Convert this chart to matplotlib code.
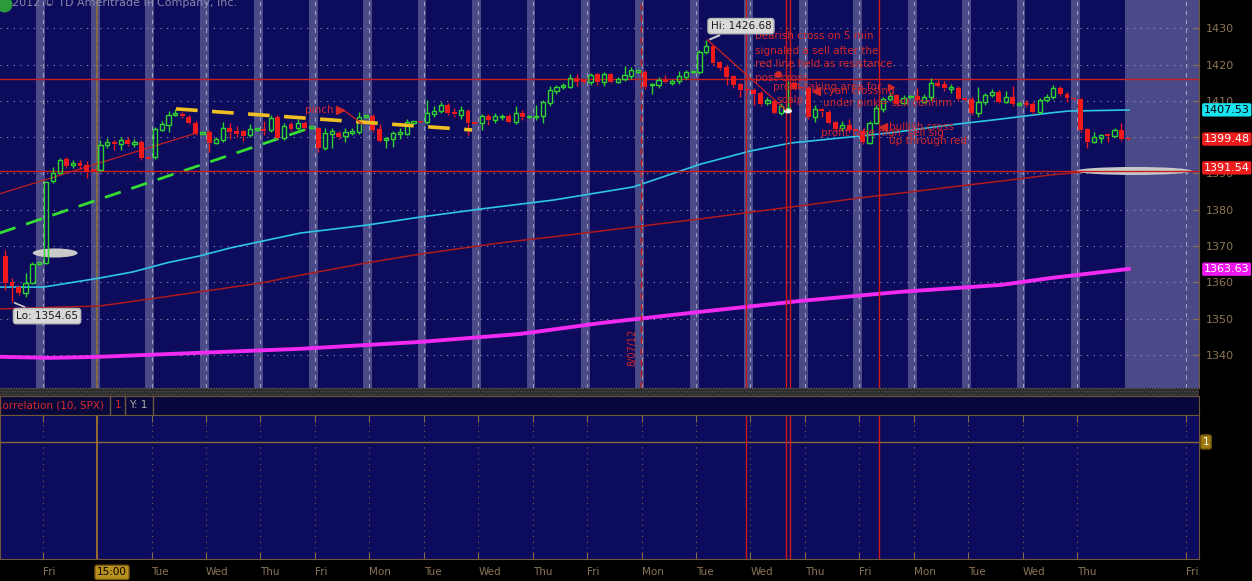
import numpy as np
import matplotlib.pyplot as plt
from matplotlib.patches import Ellipse, Rectangle

# Hourly SPX-style candles, index 0 = first bar after the left-most day boundary
bar_index = np.arange(-6, 160)
bar_open = [
    1367.4, 1360.2, 1358.8, 1357.0, 1359.9, 1365.1,
    1365.4, 1388.0, 1390.2, 1393.9, 1392.4, 1393.0, 1392.3, 1391.1,
    1391.0, 1397.9, 1398.7, 1398.0, 1399.2, 1398.0, 1398.8, 1394.3,
    1394.6, 1402.0, 1403.4, 1406.2, 1406.4, 1405.7, 1404.0, 1401.0,
    1401.4, 1398.5, 1399.2, 1402.5, 1401.8, 1401.6, 1400.6, 1402.0,
    1402.3, 1402.0, 1405.6, 1399.8, 1403.6, 1402.5, 1403.9, 1402.5,
    1402.5, 1397.0, 1400.9, 1401.2, 1400.3, 1401.2, 1401.4, 1405.6,
    1405.8, 1402.2, 1399.2, 1399.5, 1400.8, 1401.0, 1403.9, 1404.3,
    1404.2, 1406.5, 1407.3, 1408.9, 1407.0, 1406.1, 1407.2, 1404.0,
    1403.9, 1405.8, 1404.8, 1405.5, 1405.8, 1404.2, 1406.7, 1405.5,
    1405.5, 1405.8, 1409.4, 1412.8, 1413.9, 1413.9, 1416.3, 1415.3,
    1415.3, 1417.4, 1415.3, 1417.4, 1415.1, 1416.0, 1416.8, 1418.0,
    1418.0, 1414.3, 1414.5, 1415.6, 1415.0, 1415.4, 1416.5, 1417.9,
    1418.0, 1423.5, 1425.0, 1420.7, 1419.3, 1416.9, 1414.6, 1413.1,
    1413.0, 1412.2, 1409.4, 1410.0, 1406.7, 1407.5, 1415.0, 1413.6,
    1413.5, 1405.6, 1407.5, 1407.0, 1404.2, 1402.5, 1403.4, 1402.0,
    1401.8, 1398.3, 1404.0, 1407.8, 1410.4, 1411.5, 1409.4, 1411.0,
    1411.3, 1409.8, 1411.0, 1415.0, 1414.6, 1413.4, 1413.5, 1410.6,
    1410.5, 1406.8, 1409.7, 1411.6, 1412.5, 1409.8, 1411.2, 1409.0,
    1409.2, 1409.2, 1406.9, 1410.2, 1411.0, 1413.6, 1411.8, 1410.7,
    1410.5, 1402.3, 1398.7, 1399.8, 1400.6, 1400.3, 1401.9, 1399.6,
]
bar_high = [
    1368.9, 1361.2, 1359.3, 1362.6, 1365.7, 1365.3,
    1388.0, 1391.9, 1394.2, 1394.6, 1393.6, 1393.8, 1393.4, 1391.2,
    1399.2, 1399.8, 1399.3, 1400.0, 1400.0, 1399.6, 1399.3, 1394.4,
    1402.9, 1404.5, 1407.3, 1407.8, 1406.9, 1406.1, 1404.4, 1401.4,
    1402.0, 1400.0, 1404.3, 1404.0, 1403.0, 1402.0, 1403.5, 1402.4,
    1404.5, 1406.0, 1406.0, 1404.0, 1404.3, 1405.0, 1404.5, 1402.8,
    1402.8, 1402.5, 1402.6, 1401.8, 1402.5, 1402.5, 1407.0, 1406.0,
    1406.3, 1403.5, 1400.0, 1401.8, 1402.5, 1405.0, 1404.3, 1404.5,
    1410.2, 1408.5, 1409.7, 1409.5, 1408.0, 1408.5, 1407.8, 1404.2,
    1406.5, 1406.5, 1406.6, 1406.5, 1406.3, 1408.5, 1407.5, 1405.8,
    1408.8, 1410.2, 1414.0, 1414.5, 1415.0, 1417.4, 1417.4, 1415.5,
    1417.6, 1417.8, 1418.0, 1417.8, 1416.6, 1419.5, 1419.3, 1418.3,
    1418.5, 1415.0, 1416.5, 1417.2, 1416.0, 1418.3, 1418.5, 1418.2,
    1424.0, 1426.68, 1425.5, 1421.0, 1419.8, 1417.2, 1415.0, 1413.3,
    1413.5, 1412.6, 1411.0, 1410.5, 1409.5, 1415.5, 1415.5, 1413.8,
    1414.0, 1409.0, 1408.0, 1407.5, 1404.5, 1404.5, 1405.0, 1402.3,
    1402.2, 1404.5, 1409.0, 1411.0, 1412.5, 1412.0, 1411.5, 1411.6,
    1413.5, 1412.0, 1416.3, 1415.8, 1415.5, 1414.6, 1414.0, 1410.8,
    1411.0, 1413.8, 1412.3, 1413.2, 1413.0, 1412.8, 1414.0, 1409.4,
    1410.2, 1409.6, 1410.8, 1411.8, 1414.5, 1414.0, 1412.5, 1410.9,
    1410.8, 1402.6, 1401.5, 1401.0, 1400.9, 1402.5, 1404.0, 1399.7,
]
bar_low = [
    1357.9, 1354.65, 1356.6, 1356.0, 1359.5, 1364.9,
    1365.0, 1387.5, 1389.8, 1391.6, 1391.4, 1391.2, 1388.8, 1390.7,
    1390.6, 1397.0, 1396.5, 1396.6, 1397.6, 1397.3, 1393.8, 1393.9,
    1394.1, 1401.6, 1401.5, 1405.8, 1405.4, 1403.6, 1400.6, 1400.8,
    1396.0, 1398.0, 1398.8, 1399.5, 1400.0, 1399.0, 1400.0, 1401.8,
    1400.5, 1401.5, 1399.5, 1399.3, 1401.8, 1402.0, 1402.0, 1402.3,
    1395.9, 1396.5, 1397.0, 1399.5, 1398.8, 1400.5, 1401.0, 1405.4,
    1401.5, 1398.7, 1397.0, 1397.3, 1399.5, 1400.5, 1403.7, 1403.9,
    1403.5, 1405.5, 1406.8, 1406.0, 1405.5, 1405.0, 1400.6, 1403.5,
    1402.0, 1403.3, 1404.0, 1404.7, 1403.8, 1403.6, 1404.8, 1405.3,
    1404.8, 1403.8, 1408.5, 1411.8, 1413.3, 1413.6, 1414.0, 1415.0,
    1414.5, 1414.4, 1414.0, 1414.8, 1414.8, 1415.5, 1416.0, 1417.8,
    1413.3, 1412.0, 1413.5, 1414.8, 1414.5, 1414.6, 1416.0, 1417.7,
    1417.5, 1423.0, 1420.0, 1418.5, 1414.5, 1413.5, 1411.0, 1412.7,
    1409.0, 1408.6, 1409.0, 1406.3, 1406.0, 1407.0, 1413.0, 1413.3,
    1405.0, 1404.2, 1405.5, 1403.5, 1401.5, 1401.8, 1401.5, 1401.6,
    1398.0, 1398.0, 1403.5, 1407.0, 1410.0, 1408.5, 1409.0, 1410.8,
    1409.8, 1409.5, 1410.0, 1413.8, 1412.8, 1412.3, 1410.0, 1410.1,
    1406.0, 1405.5, 1409.0, 1411.0, 1409.3, 1409.3, 1408.7, 1408.8,
    1408.3, 1406.4, 1406.5, 1409.6, 1410.5, 1411.3, 1409.8, 1410.2,
    1401.5, 1397.0, 1398.3, 1398.5, 1398.8, 1400.0, 1399.0, 1399.3,
]
bar_close = [
    1359.8, 1358.9, 1357.0, 1359.9, 1365.1, 1365.3,
    1387.7, 1390.2, 1393.7, 1392.1, 1392.8, 1392.2, 1390.5, 1390.8,
    1397.9, 1398.7, 1398.2, 1399.2, 1398.0, 1398.7, 1394.2, 1394.1,
    1402.2, 1403.6, 1406.1, 1406.5, 1405.8, 1403.8, 1400.9, 1401.2,
    1398.3, 1399.5, 1402.5, 1401.5, 1401.0, 1400.4, 1402.2, 1402.2,
    1401.8, 1405.3, 1399.8, 1403.1, 1402.3, 1403.9, 1402.5, 1402.6,
    1397.0, 1401.2, 1401.6, 1400.1, 1401.4, 1401.8, 1405.6, 1405.8,
    1402.0, 1399.0, 1399.6, 1401.2, 1401.5, 1404.2, 1404.1, 1404.1,
    1406.7, 1407.3, 1408.9, 1406.7, 1406.5, 1407.5, 1403.9, 1403.7,
    1405.8, 1404.8, 1405.8, 1405.8, 1404.2, 1406.7, 1405.5, 1405.7,
    1405.8, 1409.7, 1413.0, 1413.8, 1414.2, 1416.3, 1415.3, 1415.2,
    1417.0, 1415.2, 1417.4, 1415.2, 1416.0, 1417.2, 1418.6, 1418.2,
    1413.8, 1414.6, 1415.8, 1415.3, 1415.4, 1416.8, 1418.0, 1418.1,
    1423.5, 1425.0, 1420.4, 1419.1, 1416.5, 1414.4, 1413.0, 1412.9,
    1412.0, 1409.2, 1410.2, 1406.7, 1408.6, 1408.0, 1413.3, 1413.5,
    1405.6, 1407.8, 1407.2, 1403.9, 1402.3, 1403.4, 1402.0, 1401.8,
    1398.6, 1404.0, 1408.0, 1410.4, 1411.3, 1409.2, 1410.8, 1411.3,
    1410.3, 1411.1, 1414.9, 1414.2, 1413.5, 1413.8, 1410.5, 1410.3,
    1406.7, 1409.7, 1411.6, 1412.4, 1409.7, 1411.0, 1409.2, 1409.2,
    1408.9, 1406.9, 1410.2, 1411.1, 1413.6, 1411.8, 1410.8, 1410.4,
    1402.0, 1398.7, 1400.0, 1400.6, 1400.4, 1402.0, 1399.5, 1399.4,
]

# moving averages (bar position, price)
cyan_x = [-6.8, -0.4, 7.9, 12.8, 17.8, 22.6, 27.1, 37.4, 47.2, 55.0, 63.8, 74.6,
          86.3, 96.2, 103.5, 109.4, 116.8, 124.1, 132.9, 140.3, 147.6, 150.2, 159.1]
cyan_y = [1358.7, 1358.7, 1361.2, 1362.9, 1365.4, 1367.3, 1369.5, 1373.6, 1375.8,
          1378.0, 1380.2, 1382.7, 1386.3, 1392.6, 1396.2, 1398.4, 1399.8, 1401.2,
          1403.4, 1405.0, 1406.7, 1407.2, 1407.5]
red_ma_x = [-6.8, 7.9, 14.4, 22.6, 31.5, 37.4, 47.2, 55.0, 66.8, 75.6, 87.4, 96.2,
            105.0, 110.9, 119.7, 125.6, 134.4, 140.3, 147.6, 153.5, 159.1]
red_ma_y = [1352.7, 1353.5, 1355.2, 1357.4, 1359.8, 1362.0, 1365.4, 1367.8, 1370.9,
            1372.8, 1375.5, 1377.5, 1379.7, 1381.1, 1383.3, 1384.6, 1386.6, 1387.9,
            1389.6, 1390.6, 1391.4]
pink_x = [-6.8, 0.6, 7.9, 22.6, 37.4, 55.0, 69.7, 81.5, 96.2, 110.9, 125.6, 140.3, 147.6, 159.1]
pink_y = [1339.5, 1339.2, 1339.5, 1340.6, 1341.7, 1343.6, 1345.8, 1348.8, 1351.9,
          1354.9, 1357.4, 1359.3, 1361.2, 1363.7]

price_ticks = [1340, 1350, 1360, 1370, 1380, 1390, 1400, 1410, 1420, 1430]
day_numbers = [0, 1, 2, 3, 4, 5, 6, 7, 8, 9, 10, 11, 12, 13, 14, 15, 16, 17, 18, 19, 21]
day_labels = ["Fri", "15:00", "Tue", "Wed", "Thu", "Fri", "Mon", "Tue", "Wed", "Thu",
              "Fri", "Mon", "Tue", "Wed", "Thu", "Fri", "Mon", "Tue", "Wed", "Thu", "Fri"]
marker_lines = [102.8, 108.7, 109.3, 122.4]
last_values = [(1407.53, "#19e3ef", "black"), (1399.48, "#ee1c1c", "white"),
               (1391.54, "#ee1c1c", "white"), (1363.63, "#ee16ee", "white")]

NAVY = "#0c0b5c"
BAND = "#4b4a88"
BROWN = "#6e5838"
AXTXT = "#8c7652"
GREEN = "#2fd42f"
RED = "#f01a1a"
NOTE = "#d42828"

fig = plt.figure(figsize=(12.52, 5.81), dpi=100)
fig.patch.set_facecolor("black")
W, H = 1252, 581

ax = fig.add_axes([0, 1 - 388 / H, 1199 / W, 388 / H])
ax.set_facecolor(NAVY)
ax.set_xlim(-6.76, 169.4)
ax.set_ylim(1330.9, 1437.8)

day_pos = 8 * np.array(day_numbers) - 0.5

# overnight bands + future area
for k in range(20):
    ax.axvspan(8 * k - 1.4, 8 * k - 0.1, color=BAND, lw=0, zorder=0.5)
ax.axvspan(158.5, 169.4, color=BAND, lw=0, zorder=0.5)
for p in day_pos:
    ax.axvline(p, color="#9c9cbc", lw=0.8, ls=(0, (4, 4)), zorder=0.6)
ax.axvline(7.5, color="#8a6a3a", lw=1.2, zorder=0.7)
for t in price_ticks:
    ax.axhline(t, color="#9a9ab4", lw=0.8, ls=(0, (1, 5)), zorder=0.6)

# moving averages
ax.plot(pink_x, pink_y, color="#f02af0", lw=2.8, zorder=2)
ax.plot(red_ma_x, red_ma_y, color="#b01a1a", lw=1.1, zorder=2)
ax.plot(cyan_x, cyan_y, color="#2cc6e6", lw=1.2, zorder=2)

# horizontal levels and vertical markers
ax.axhline(1416.0, color="#c81e1e", lw=1, zorder=2.2)
ax.axhline(1390.7, color="#c81e1e", lw=1, zorder=2.6)
for xm in marker_lines:
    ax.axvline(xm, color="#d01818", lw=1, zorder=2.2)
ax.axvline(87.35, color="#c01c1c", lw=1, ls=(0, (5, 3)), zorder=2.2)

ax.add_patch(Ellipse((1.35, 1368.1), 6.6, 2.5, fc="#cacaca", ec="none", zorder=2.5))
ax.add_patch(Ellipse((159.85, 1390.7), 17.0, 2.2, fc="#c8c8c8", ec="none", zorder=2.5))
ax.add_patch(Ellipse((109.0, 1407.2), 1.2, 1.3, fc="#eeeeee", ec="none", zorder=3.5))

# candles
o = np.array(bar_open)
c = np.array(bar_close)
hi = np.array(bar_high)
lo = np.array(bar_low)
up = c >= o
top = np.maximum(o, c)
bot = np.minimum(o, c)
height = np.maximum(top - bot, 0.45)
colors = np.where(up, GREEN, RED)
ax.vlines(bar_index, top, hi, colors=colors, lw=1, zorder=3)
ax.vlines(bar_index, lo, bot, colors=colors, lw=1, zorder=3)
ax.bar(bar_index[~up], height[~up], bottom=bot[~up], width=0.72, color=RED, lw=0, zorder=3)
ax.bar(bar_index[up], height[up], bottom=bot[up], width=0.62, facecolor="none",
       edgecolor=GREEN, lw=1, zorder=3)

# trend lines drawn by hand
ax.plot([-6.8, 22.2], [1384.4, 1401.2], color="#c02020", lw=0.9, zorder=2.3)
ax.plot([-6.8, 38.4], [1373.6, 1402.3], color="#33dd33", lw=2, ls=(0, (6, 4)), zorder=2.4)
ax.plot([19.1, 62.6], [1407.8, 1402.0], color="#f0c020", lw=2.6, ls=(0, (6, 4)), zorder=3.6)
ax.plot([97.2, 108.7], [1426.8, 1407.5], color="#d02020", lw=0.9, zorder=3.6)
ax.plot([43.7, 46.5], [1407.5, 1403.6], color="#d02020", lw=0.9, zorder=3.6)

# notes
nk = dict(color=NOTE, fontsize=7.5, va="center", ha="left", zorder=5)
ax.text(38.1, 1407.5, "pinch", **nk)
ax.plot([43.2], [1407.5], marker=">", color=NOTE, ms=6, zorder=5)
for yy, s in zip([1427.9, 1423.8, 1420.1, 1416.2],
                 ["bearish cross on 5 min", "signaled a sell after the",
                  "red line held as resistance", "post cross"]):
    ax.text(104.1, yy, s, **nk)
ax.plot([107.5], [1417.4], marker="o", color=NOTE, ms=4, zorder=5)
ax.text(106.8, 1413.8, "profit taking area for", **nk)
ax.text(107.3, 1410.2, "scalp", **nk)
ax.plot([113.1], [1412.7], marker="<", color=NOTE, ms=6, zorder=5)
ax.text(114.1, 1412.7, "cyan crossing", **nk)
ax.text(114.1, 1409.4, "under pink= sell confirm", **nk)
ax.plot([124.1], [1413.8], marker=">", color=NOTE, ms=5, zorder=5)
ax.text(113.8, 1401.2, "profit take high. sell sig", **nk)
ax.plot([122.9], [1402.8], marker="<", color=NOTE, ms=6, zorder=5)
ax.text(123.8, 1402.8, "bullish cross", **nk)
ax.text(123.8, 1399.0, "up through red", **nk)
ax.text(86.2, 1342.0, "8/07/12", color=NOTE, fontsize=7, rotation=90,
        ha="center", va="center", zorder=5)

ax.annotate("Hi: %.2f" % max(bar_high), xy=(97.2, max(bar_high)), xytext=(102.1, 1430.6),
            ha="center", va="center", fontsize=7.5, color="#1a1a1a", zorder=6,
            bbox=dict(boxstyle="round,pad=0.25", fc="#d8d8d8", ec="#b8b8b8"),
            arrowprops=dict(arrowstyle="-", color="#c8c8c8", lw=1.5))
ax.annotate("Lo: %.2f" % min(bar_low), xy=(-5, min(bar_low)), xytext=(0.15, 1350.7),
            ha="center", va="center", fontsize=7.5, color="#1a1a1a", zorder=6,
            bbox=dict(boxstyle="round,pad=0.25", fc="#d8d8d8", ec="#b8b8b8"),
            arrowprops=dict(arrowstyle="-", color="#c8c8c8", lw=1.2))

# right price axis
ax.yaxis.tick_right()
ax.set_yticks(price_ticks)
ax.tick_params(axis="y", direction="in", length=4, color=AXTXT, labelcolor=AXTXT,
               labelsize=8, pad=5)
ax.tick_params(axis="x", bottom=False, labelbottom=False)
for s in ["top", "left"]:
    ax.spines[s].set_visible(False)
for s in ["right", "bottom"]:
    ax.spines[s].set_color(BROWN)
for val, bg, fg in last_values:
    ax.text(1.004, val, "%.2f" % val, transform=ax.get_yaxis_transform(), ha="left",
            va="center", fontsize=8, color=fg, zorder=7, clip_on=False,
            bbox=dict(boxstyle="round,pad=0.15", fc=bg, ec="none"))

fig.text(12 / W, 1 - 3 / H, "2012 \u00a9 TD Ameritrade IP Company, Inc.", color="#8888a8",
         fontsize=8, va="center", ha="left")
ax.scatter([0.003], [0.99], s=110, color="#2a9a3a", transform=ax.transAxes,
           clip_on=False, zorder=8)

# separator between panes
fig.patches.append(Rectangle((0, 1 - 396 / H), 1199 / W, 8 / H, transform=fig.transFigure,
                             fc="#202020", ec="#5a5a5a", hatch="......", lw=0))

# study header
hx = fig.add_axes([0, 1 - 415 / H, 1199 / W, 19 / H])
hx.set_facecolor("#08083c")
hx.set_xlim(0, 1199)
hx.set_ylim(0, 1)
hx.set_xticks([])
hx.set_yticks([])
for s in hx.spines.values():
    s.set_color(BROWN)
hx.text(-5, 0.5, "Correlation (10, SPX)", color=NOTE, fontsize=7.5, va="center")
hx.text(115, 0.5, "1", color=NOTE, fontsize=7.5, va="center")
hx.text(129, 0.5, "Y: 1", color="#b0b0b0", fontsize=7.5, va="center")
for xv in [110, 125, 153]:
    hx.axvline(xv, color=BROWN, lw=1)

# lower study pane
ax2 = fig.add_axes([0, 1 - 559 / H, 1199 / W, 144 / H], sharex=ax)
ax2.set_facecolor("#0c0b5e")
ax2.set_ylim(-3, 1.923)
ax2.axhline(1, color="#8a6a3a", lw=1)
for p in day_pos:
    ax2.axvline(p, color="#7a6440", lw=0.8, ls=(0, (1, 4)))
ax2.axvline(7.5, color="#a0702a", lw=1.3)
for xm in marker_lines:
    ax2.axvline(xm, color="#d01818", lw=1)
ax2.set_yticks([])
ax2.set_xticks(day_pos)
ax2.set_xticklabels(day_labels)
ax2.tick_params(axis="x", top=True, bottom=True, direction="in", length=5, color="#8a6e44",
                labelcolor="#8a7556", labelsize=7.5, pad=6)
for lab in ax2.get_xticklabels():
    lab.set_ha("left")
lab15 = ax2.get_xticklabels()[1]
lab15.set_color("black")
lab15.set_bbox(dict(boxstyle="round,pad=0.2", fc="#b8901e", ec="#7a5a10"))
for s in ax2.spines.values():
    s.set_color(BROWN)
ax2.text(1.003, 1, "1", transform=ax2.get_yaxis_transform(), ha="left", va="center",
         fontsize=7.5, color="white", clip_on=False,
         bbox=dict(boxstyle="round,pad=0.2", fc="#a07810", ec="#6a5010"))

plt.savefig("out.png", dpi=100, facecolor=fig.get_facecolor())
